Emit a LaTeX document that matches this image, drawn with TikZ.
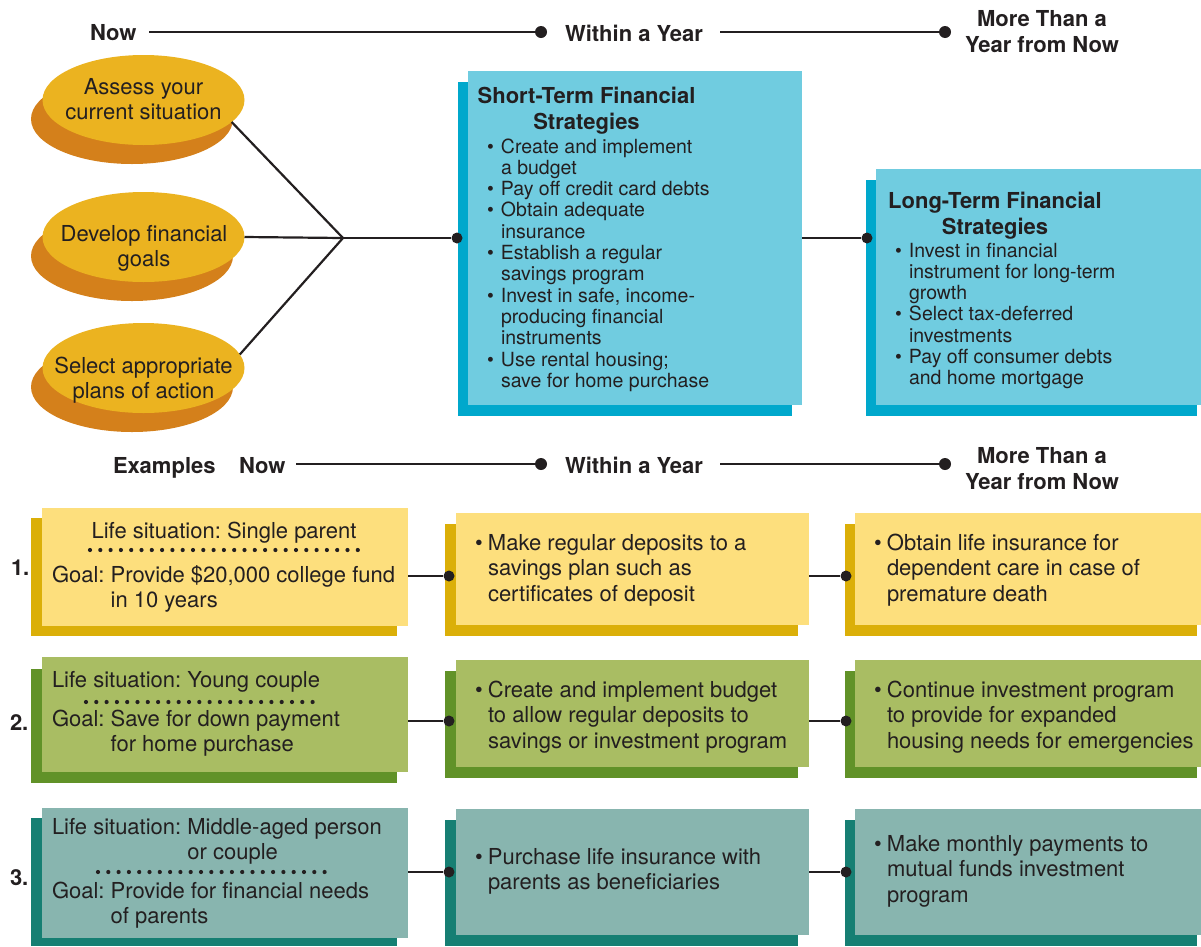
\documentclass[tikz,border=0pt]{standalone}
\usepackage{fontspec}
\setmainfont{TeX Gyre Heros}
\usetikzlibrary{shapes.geometric}

\definecolor{ink}{HTML}{231F20}
\definecolor{ovalfront}{HTML}{EBB320}
\definecolor{ovalback}{HTML}{D4801B}
\definecolor{cyanfront}{HTML}{70CCE0}
\definecolor{cyanback}{HTML}{00A8CC}
\definecolor{yelfront}{HTML}{FDDF7D}
\definecolor{yelback}{HTML}{DBAF08}
\definecolor{grnfront}{HTML}{A9BD63}
\definecolor{grnback}{HTML}{619228}
\definecolor{tealfront}{HTML}{88B5AF}
\definecolor{tealback}{HTML}{167F73}

% stacked lines; the node's base is the baseline of the first line
\newcommand\leftlines[1]{\vtop{\halign{##\hfil\cr#1\crcr}}}
\newcommand\midlines[1]{\vtop{\halign{\hfil##\hfil\cr#1\crcr}}}
\newcommand\bul{\makebox[14pt][l]{\textbullet}}
\newcommand\gap{\hspace*{14pt}}
\newcommand\rbul{\makebox[13pt][l]{\textbullet}}
\newcommand\rgap{\hspace*{13pt}}

\tikzset{
  txt/.style={inner sep=0, outer sep=0, text=ink, font=\fontsize{22}{25.8}\selectfont, anchor=base west},
  head/.style={txt, font=\fontsize{22}{26}\selectfont\bfseries},
  small/.style={txt, font=\fontsize{19.5}{21.3}\selectfont},
  panel/.style={rectangle, inner sep=0, outer sep=0, anchor=north west, draw=none},
  oval/.style={ellipse, inner sep=0, outer sep=0, minimum width=202, minimum height=90},
  bigdot/.style={circle, fill=ink, inner sep=0, minimum size=12},
  smalldot/.style={circle, fill=ink, inner sep=0, minimum size=11},
  tline/.style={draw=ink, line width=2.3},
  conn/.style={draw=ink, line width=2.2},
  dotsep/.style={draw=ink, line width=4.2, line cap=round, dash pattern=on 0pt off 10.3pt},
}

\begin{document}
\frenchspacing
\begin{tikzpicture}[x=1pt,y=-1pt]
\useasboundingbox (0,0) rectangle (1201,946);

% ---------- upper time line ----------
\node[head] (now1) at (90,40) {Now};
\coordinate (t1s) at (149,32);
\node[bigdot] (t1a) at (541,32) {};
\node[head] (year1) at (565,41) {Within a Year};
\coordinate (t1m) at (720,32);
\node[bigdot] (t1b) at (945,32) {};
\node[head, anchor=base] (more1) at (1042,26) {\midlines{More Than a\cr Year from Now}};
\draw[tline] (t1s) -- (t1a);
\draw[tline] (t1m) -- (t1b);

% ---------- planning steps ----------
\node[oval, fill=ovalback] (e1b) at (132,119) {};
\node[oval, fill=ovalfront] (e1) at (143.5,100) {};
\node[oval, fill=ovalback] (e2b) at (132,256) {};
\node[oval, fill=ovalfront] (e2) at (143.5,237) {};
\node[oval, fill=ovalback] (e3b) at (132,387) {};
\node[oval, fill=ovalfront] (e3) at (143.5,368) {};
\node[txt, anchor=base] (e1t) at (143.5,94) {\midlines{Assess your\cr current situation}};
\node[txt, anchor=base] (e2t) at (144,241) {\midlines{Develop financial\cr goals}};
\node[txt, anchor=base] (e3t) at (143.5,373) {\midlines{Select appropriate\cr plans of action}};

% ---------- short-term strategies ----------
\node[panel, fill=cyanback, minimum width=334, minimum height=334] (stB) at (458,82) {};
\node[panel, fill=cyanfront, minimum width=334, minimum height=334] (stF) at (468,71) {};
\node[head, anchor=base] (stT) at (586.5,103) {\midlines{Short-Term Financial\cr Strategies}};
\node[small] (stL) at (487,153) {\leftlines{%
  \bul Create and implement\cr
  \gap a budget\cr
  \bul Pay off credit card debts\cr
  \bul Obtain adequate\cr
  \gap insurance\cr
  \bul Establish a regular\cr
  \gap savings program\cr
  \bul Invest in safe, income-\cr
  \gap producing financial\cr
  \gap instruments\cr
  \bul Use rental housing;\cr
  \gap save for home purchase}};

% ---------- long-term strategies ----------
\node[panel, fill=cyanback, minimum width=331, minimum height=236] (ltB) at (866,180) {};
\node[panel, fill=cyanfront, minimum width=325, minimum height=236] (ltF) at (876,169) {};
\node[head, anchor=base] (ltT) at (995,208) {\midlines{Long-Term Financial\cr Strategies}};
\node[small] (ltL) at (895,257) {\leftlines{%
  \bul Invest in financial\cr
  \gap instrument for long-term\cr
  \gap growth\cr
  \bul Select tax-deferred\cr
  \gap investments\cr
  \bul Pay off consumer debts\cr
  \gap and home mortgage}};

% ---------- upper connectors ----------
\coordinate (jn) at (343,238);
\node[smalldot] (stdot) at (457,238) {};
\node[smalldot] (ltdot) at (867,238) {};
\draw[conn] (e1.-14) -- (jn);
\draw[conn] (e2.east) -- (jn);
\draw[conn] (e3.8) -- (jn);
\draw[conn] (jn) -- (stdot);
\draw[conn] (stF.east |- ltdot) -- (ltdot);

% ---------- lower time line ----------
\node[head] (ex) at (113,473) {Examples};
\node[head] (now2) at (239,473) {Now};
\coordinate (t2s) at (296,464);
\node[bigdot] (t2a) at (541,464) {};
\node[head] (year2) at (565,473) {Within a Year};
\coordinate (t2m) at (720,464);
\node[bigdot] (t2b) at (945,464) {};
\node[head, anchor=base] (more2) at (1042,463) {\midlines{More Than a\cr Year from Now}};
\draw[tline] (t2s) -- (t2a);
\draw[tline] (t2m) -- (t2b);

% ---------- example 1 ----------
\node[panel, fill=yelback, minimum width=366, minimum height=118] (r1LB) at (31,518) {};
\node[panel, fill=yelfront, minimum width=366, minimum height=118] (r1LF) at (42,508) {};
\node[panel, fill=yelback, minimum width=353, minimum height=112] (r1MB) at (445,524) {};
\node[panel, fill=yelfront, minimum width=353, minimum height=112] (r1MF) at (456,513) {};
\node[panel, fill=yelback, minimum width=352, minimum height=112] (r1RB) at (845,524) {};
\node[panel, fill=yelfront, minimum width=346, minimum height=112] (r1RF) at (855,513) {};
\node[head] (n1) at (11,575) {1.};
\node[txt, anchor=base] (r1s) at (224,538) {Life situation: Single parent};
\draw[dotsep] (90,550) -- (358,550);
\node[txt] (r1g) at (52,582) {\leftlines{Goal: Provide \$20,000 college fund\cr\phantom{Goal: }in 10 years}};
\node[txt] (r1m) at (475,550) {\leftlines{\rbul Make regular deposits to a\cr\rgap savings plan such as\cr\rgap certificates of deposit}};
\node[txt] (r1r) at (874,550) {\leftlines{\rbul Obtain life insurance for\cr\rgap dependent care in case of\cr\rgap premature death}};
\node[smalldot] (r1d1) at (449,576) {};
\node[smalldot] (r1d2) at (846,576) {};
\draw[conn] (r1LF.east |- r1d1) -- (r1d1);
\draw[conn] (r1MF.east |- r1d2) -- (r1d2);

% ---------- example 2 ----------
\node[panel, fill=grnback, minimum width=366, minimum height=114] (r2LB) at (31,669) {};
\node[panel, fill=grnfront, minimum width=366, minimum height=115] (r2LF) at (42,657) {};
\node[panel, fill=grnback, minimum width=353, minimum height=107] (r2MB) at (445,671) {};
\node[panel, fill=grnfront, minimum width=353, minimum height=107] (r2MF) at (456,660) {};
\node[panel, fill=grnback, minimum width=352, minimum height=107] (r2RB) at (845,671) {};
\node[panel, fill=grnfront, minimum width=346, minimum height=107] (r2RF) at (855,660) {};
\node[head] (n2) at (10,730) {2.};
\node[txt] (r2s) at (52,687) {Life situation: Young couple};
\draw[dotsep] (86,702) -- (313,702);
\node[txt] (r2g) at (52,726) {\leftlines{Goal: Save for down payment\cr\phantom{Goal: }for home purchase}};
\node[txt] (r2m) at (475,697) {\leftlines{\rbul Create and implement budget\cr\rgap to allow regular deposits to\cr\rgap savings or investment program}};
\node[txt] (r2r) at (874,697) {\leftlines{\rbul Continue investment program\cr\rgap to provide for expanded\cr\rgap housing needs for emergencies}};
\node[smalldot] (r2d1) at (449,721) {};
\node[smalldot] (r2d2) at (846,721) {};
\draw[conn] (r2LF.east |- r2d1) -- (r2d1);
\draw[conn] (r2MF.east |- r2d2) -- (r2d2);

% ---------- example 3 ----------
\node[panel, fill=tealback, minimum width=366, minimum height=128] (r3LB) at (31,818) {};
\node[panel, fill=tealfront, minimum width=366, minimum height=130] (r3LF) at (42,808) {};
\node[panel, fill=tealback, minimum width=353, minimum height=126] (r3MB) at (445,820) {};
\node[panel, fill=tealfront, minimum width=353, minimum height=126] (r3MF) at (456,809) {};
\node[panel, fill=tealback, minimum width=352, minimum height=126] (r3RB) at (845,820) {};
\node[panel, fill=tealfront, minimum width=346, minimum height=126] (r3RF) at (855,809) {};
\node[head] (n3) at (10,885) {3.};
\node[txt] (r3s) at (52,834) {\leftlines{Life situation: Middle-aged person\cr\phantom{Life situation: }or couple}};
\draw[dotsep] (98,872) -- (325,872);
\node[txt] (r3g) at (52,898) {\leftlines{Goal: Provide for financial needs\cr\phantom{Goal: }of parents}};
\node[txt] (r3m) at (475,864) {\leftlines{\rbul Purchase life insurance with\cr\rgap parents as beneficiaries}};
\node[txt] (r3r) at (874,851) {\leftlines{\rbul Make monthly payments to\cr\rgap mutual funds investment\cr\rgap program}};
\node[smalldot] (r3d1) at (449,872) {};
\node[smalldot] (r3d2) at (846,872) {};
\draw[conn] (r3LF.east |- r3d1) -- (r3d1);
\draw[conn] (r3MF.east |- r3d2) -- (r3d2);
\end{tikzpicture}
\end{document}
